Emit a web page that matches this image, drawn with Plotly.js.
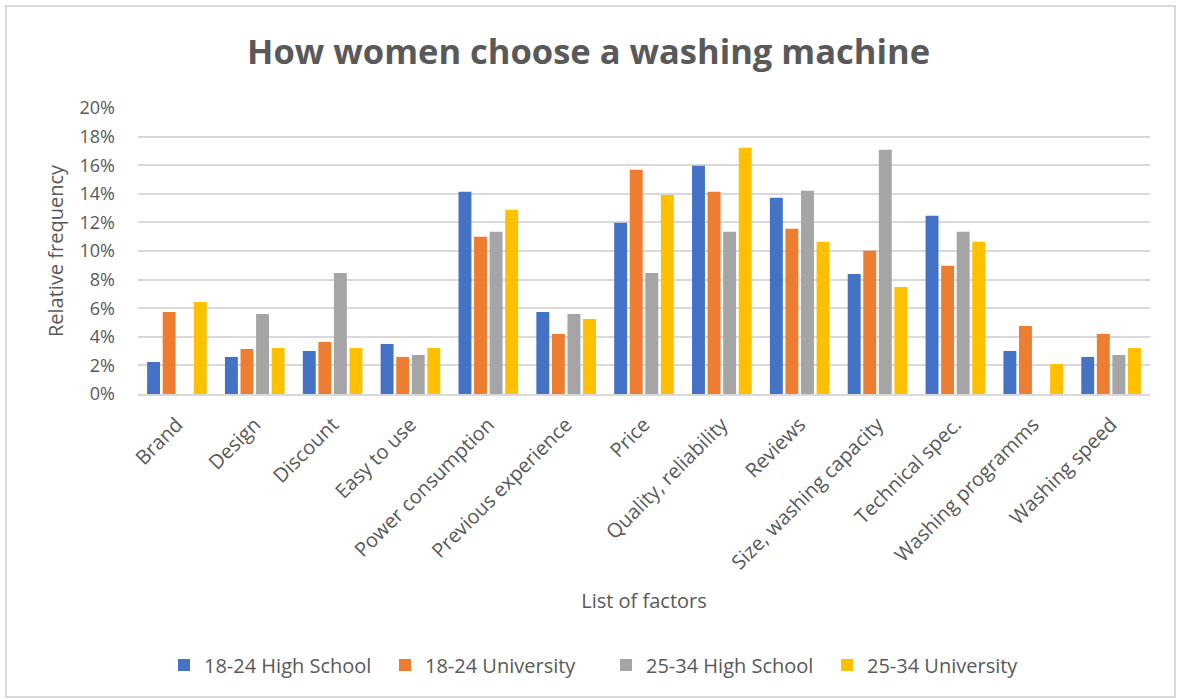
<!DOCTYPE html>
<html>
<head>
<meta charset="utf-8">
<script src="https://cdn.plot.ly/plotly-3.0.1.min.js"></script>
<style>
  html, body { margin: 0; padding: 0; background: #ffffff; }
  #chart { width: 1177px; height: 699px; }
</style>
</head>
<body>
<div id="chart"></div>
<script>
const factors = [
  "Brand", "Design", "Discount", "Easy to use", "Power consumption",
  "Previous experience", "Price", "Quality, reliability", "Reviews",
  "Size, washing capacity", "Technical spec.", "Washing programms", "Washing speed"
];
const hs1824  = [0.0224, 0.0259, 0.0301, 0.0350, 0.1414, 0.0574, 0.1197, 0.1596, 0.1372, 0.0840, 0.1246, 0.0301, 0.0259];
const uni1824 = [0.0574, 0.0315, 0.0364, 0.0259, 0.1099, 0.0420, 0.1568, 0.1414, 0.1155, 0.1001, 0.0896, 0.0476, 0.0420];
const hs2534  = [0.0000, 0.0560, 0.0847, 0.0273, 0.1134, 0.0560, 0.0847, 0.1134, 0.1421, 0.1708, 0.1134, 0.0000, 0.0273];
const uni2534 = [0.0644, 0.0322, 0.0322, 0.0322, 0.1288, 0.0525, 0.1391, 0.1722, 0.1064, 0.0749, 0.1064, 0.0210, 0.0322];
const seriesNames = ["18-24 High School", "18-24 University", "25-34 High School", "25-34 University"];
const seriesValues = [hs1824, uni1824, hs2534, uni2534];
const yTickVals = [0, 0.02, 0.04, 0.06, 0.08, 0.10, 0.12, 0.14, 0.16, 0.18, 0.20];
const yTickText = ["0%", "2%", "4%", "6%", "8%", "10%", "12%", "14%", "16%", "18%", "20%"];

const colors = ["#4472C4", "#ED7D31", "#A5A5A5", "#FFC000"];
const FONT = "'Open Sans', Lato, sans-serif";
const TXT = "#595959";

const traces = seriesNames.map((name, i) => ({
  type: "bar",
  name: name,
  x: factors,
  y: seriesValues[i],
  marker: { color: colors[i], line: { width: 0 } },
  hovertemplate: "%{x}<br>%{y:.1%}<extra>" + name + "</extra>"
}));

// plot area: x 138..1150, y 108..394 (px)
const L = 138, R = 1150, T = 108, B = 394, W = 1177, H = 699;
const px2x = p => (p - L) / (R - L);
const px2y = p => (B - p) / (B - T);

const layout = {
  width: W, height: H,
  paper_bgcolor: "#ffffff", plot_bgcolor: "#ffffff",
  margin: { l: L, r: W - R, t: T, b: H - B, pad: 0 },
  font: { family: FONT, color: TXT, size: 16 },
  title: {
    text: "<b>How women choose a washing machine</b>",
    font: { family: FONT, size: 34.5, color: TXT },
    x: 0.5, xanchor: "center", y: 1 - 52 / H, yanchor: "middle"
  },
  barmode: "group",
  bargap: 0.2,
  bargroupgap: 0.17,
  xaxis: {
    type: "category",
    tickangle: -45,
    tickfont: { family: FONT, size: 20, color: TXT },
    showgrid: false,
    showline: true, linecolor: "#D9D9D9", linewidth: 2,
    ticks: "outside", ticklen: 9, tickcolor: "rgba(0,0,0,0)",
    automargin: false,
    title: { text: "List of factors", font: { family: FONT, size: 20, color: TXT }, standoff: 20 }
  },
  yaxis: {
    range: [0, 0.2],
    tickvals: yTickVals,
    ticktext: yTickText,
    tickfont: { family: FONT, size: 18, color: TXT },
    showgrid: true, gridcolor: "#D9D9D9", gridwidth: 1.5,
    zeroline: false,
    showline: false,
    ticks: "", ticklen: 0,
    ticklabelstandoff: 22,
    automargin: false,
    title: { text: "Relative frequency", font: { family: FONT, size: 20, color: TXT }, standoff: 10 }
  },
  showlegend: true,
  legend: {
    orientation: "h",
    x: px2x(606), xanchor: "center",
    y: px2y(665), yanchor: "middle",
    font: { family: FONT, size: 20, color: TXT },
    entrywidth: 176, entrywidthmode: "pixels",
    itemwidth: 30,
    traceorder: "normal",
    bgcolor: "rgba(0,0,0,0)"
  },
  shapes: [
    {
      type: "rect", xref: "paper", yref: "paper",
      x0: px2x(6), x1: px2x(1175), y0: px2y(697), y1: px2y(6),
      line: { color: "#D9D9D9", width: 2 }, fillcolor: "rgba(0,0,0,0)", layer: "below"
    }
  ]
};

Plotly.newPlot("chart", traces, layout, { displayModeBar: false, responsive: false });
</script>
</body>
</html>
